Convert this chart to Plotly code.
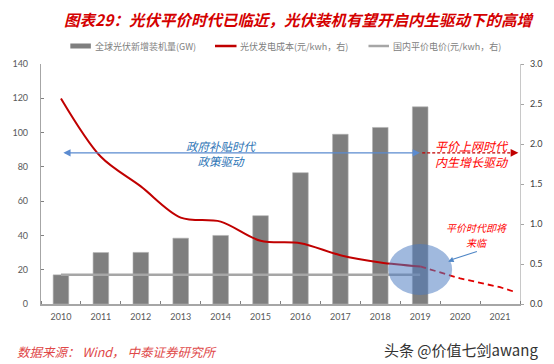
import plotly.graph_objects as go

years = [2010, 2011, 2012, 2013, 2014, 2015, 2016, 2017, 2018, 2019, 2020, 2021]
install_years = [2010, 2011, 2012, 2013, 2014, 2015, 2016, 2017, 2018, 2019]
install_gw = [17, 30, 30.1, 38.4, 40, 51.5, 76.6, 99, 103, 115]
cost_years = [2010, 2011, 2012, 2013, 2014, 2015, 2016, 2017, 2018, 2019]
cost = [2.57, 1.84, 1.47, 1.08, 1.03, 0.79, 0.76, 0.61, 0.52, 0.47]
cost_fc_years = [2019, 2020, 2021, 2021.38]
cost_fc = [0.47, 0.32, 0.21, 0.15]
grid_price_years = [2010, 2011, 2012, 2013, 2014, 2015, 2016, 2017, 2018, 2019]
grid_price = [0.365, 0.365, 0.365, 0.365, 0.365, 0.365, 0.365, 0.365, 0.365, 0.365]

legend_labels = ["全球光伏新增装机量(GW)", "光伏发电成本(元/kwh，右)", "国内平价电价(元/kwh，右)"]

CJK = "Noto Sans CJK SC"
NUM = "Lato"

# plot area: x 32..522 px, y 64..304 px
def px(X):
    return (X - 32) / 490.0

def py(Y):
    return (304 - Y) / 240.0

fig = go.Figure()
fig.add_trace(go.Bar(x=install_years, y=install_gw, width=0.39, name=legend_labels[0],
                     marker=dict(color="#7f7f7f", line=dict(color="#b0b0b0", width=0.6))))
fig.add_trace(go.Scatter(x=cost_years, y=cost, yaxis="y2", mode="lines", name=legend_labels[1],
                         line=dict(color="#c00000", width=2, shape="spline", smoothing=0.9)))
fig.add_trace(go.Scatter(x=grid_price_years, y=grid_price, yaxis="y2", mode="lines", name=legend_labels[2],
                         line=dict(color="#a6a6a6", width=2.5)))
fig.add_trace(go.Scatter(x=cost_fc_years, y=cost_fc, yaxis="y2", mode="lines", showlegend=False,
                         line=dict(color="#e00000", width=1.8, dash="6px,4px")))

shapes = [
    # ellipse highlighting parity moment
    dict(type="circle", xref="x", yref="y2", x0=2018.2, x1=2019.8, y0=0.112, y1=0.75,
         fillcolor="rgba(76,123,193,0.53)", line=dict(width=0), layer="above"),
    # red dashed arrow shaft
    dict(type="line", xref="x", yref="y2", x0=2019.05, x1=2021.35, y0=1.89, y1=1.89,
         line=dict(color="#c00000", width=1.3, dash="3px,2px")),
    # small blue arrow shaft (pointing to the ellipse)
    dict(type="line", xref="x", yref="y2", x0=2020.42, x1=2019.8, y0=py(251.5) * 3, y1=py(259.5) * 3,
         line=dict(color="#4f86c6", width=1.1)),
    # legend swatches
    dict(type="rect", xref="paper", yref="paper", x0=px(62), x1=px(83), y0=py(48.5), y1=py(43.5),
         fillcolor="#7f7f7f", line=dict(width=0)),
    dict(type="line", xref="paper", yref="paper", x0=px(210), x1=px(232), y0=py(46), y1=py(46),
         line=dict(color="#c00000", width=2.5)),
    dict(type="line", xref="paper", yref="paper", x0=px(367), x1=px(388), y0=py(46), y1=py(46),
         line=dict(color="#a6a6a6", width=2.5)),
]

legend_x = [85, 234, 390]
annotations = [
    dict(x=px(xx), y=py(46), xref="paper", yref="paper", xanchor="left", yanchor="middle",
         text=t, showarrow=False, font=dict(family=CJK, size=9, color="#808080"))
    for xx, t in zip(legend_x, legend_labels)
]

annotations += [
    # blue double-headed arrow
    dict(x=2010.06, y=1.89, ax=2019.03, ay=1.89, xref="x", yref="y2", axref="x", ayref="y2",
         text="", showarrow=True, arrowhead=2, startarrowhead=2, arrowside="end+start",
         arrowsize=1.2, startarrowsize=1.2, arrowwidth=1.2, arrowcolor="#5b8bd0"),
    # red arrow head
    dict(x=2021.46, y=1.89, ax=2021.3, ay=1.89, xref="x", yref="y2", axref="x", ayref="y2",
         text="", showarrow=True, arrowhead=2, arrowsize=1.2, arrowwidth=1.3, arrowcolor="#c00000"),
    # small blue arrow head
    dict(x=2019.7, y=py(261.7) * 3, ax=2019.85, ay=py(259.2) * 3, xref="x", yref="y2", axref="x", ayref="y2",
         text="", showarrow=True, arrowhead=2, arrowsize=1, arrowwidth=1.1, arrowcolor="#4f86c6"),
    # texts
    dict(x=2014.0, y=py(153.2) * 3, xref="x", yref="y2", text="政府补贴时代<br>政策驱动", showarrow=False,
         font=dict(family=CJK, size=11.5, color="#2e75b6", style="italic")),
    dict(x=2020.3, y=py(153.1) * 3, xref="x", yref="y2", text="平价上网时代<br>内生增长驱动", showarrow=False,
         font=dict(family=CJK, size=12, color="#ff0000", style="italic")),
    dict(x=2020.43, y=py(227.5) * 3, xref="x", yref="y2", text="平价时代即将", showarrow=False,
         font=dict(family=CJK, size=10, color="#ff0000", style="italic")),
    dict(x=2020.43, y=py(242) * 3, xref="x", yref="y2", text="来临", showarrow=False,
         font=dict(family=CJK, size=10, color="#ff0000", style="italic")),
    # footer
    dict(x=px(5), y=py(351), xref="paper", yref="paper", xanchor="left", yanchor="middle",
         text="数据来源： Wind， 中泰证券研究所", showarrow=False,
         font=dict(family=CJK, size=12.5, color="#e04848", style="italic")),
    dict(x=px(542), y=py(349), xref="paper", yref="paper", xanchor="right", yanchor="middle",
         text="头条 @价值七剑awang", showarrow=False,
         font=dict(family=CJK, size=15, color="#333333")),
]

fig.update_layout(
    width=554, height=364,
    margin=dict(l=32, r=32, t=64, b=60),
    paper_bgcolor="white", plot_bgcolor="white",
    title=dict(text="图表29：光伏平价时代已临近，光伏装机有望开启内生驱动下的高增",
               x=298 / 554, xanchor="center", y=1 - 21 / 364, yanchor="middle",
               font=dict(family=CJK, size=15.5, color="#d40000", weight="bold", style="italic")),
    showlegend=False,
    bargap=0.6,
    xaxis=dict(range=[2009.5, 2021.5], tickmode="array", tickvals=years, ticktext=[str(y) for y in years],
               ticks="", showline=True, linecolor="#a6a6a6", linewidth=1.5, showgrid=False, zeroline=False,
               tickfont=dict(family=NUM, size=9, color="#595959"), ticklabelstandoff=3,
               minor=dict(tick0=2009.5, dtick=1, ticks="inside", ticklen=3, tickcolor="#808080", tickwidth=1)),
    yaxis=dict(range=[0, 140], dtick=20, ticks="inside", ticklen=3, tickcolor="#808080",
               showline=True, linecolor="#a6a6a6", linewidth=1.2, showgrid=False, zeroline=False,
               tickfont=dict(family=NUM, size=9, color="#595959"), ticklabelstandoff=10),
    yaxis2=dict(range=[0, 3], dtick=0.5, tickformat=".1f", overlaying="y", side="right",
                ticks="outside", ticklen=3, tickcolor="#a6a6a6",
                showline=True, linecolor="#c8c8c8", linewidth=1.2, showgrid=False, zeroline=False,
                tickfont=dict(family=NUM, size=9, color="#404040"), ticklabelstandoff=4),
    shapes=shapes,
    annotations=annotations,
)

fig.write_html("out.html", config={"displayModeBar": False},
               post_script="document.body.style.margin='0px';")
